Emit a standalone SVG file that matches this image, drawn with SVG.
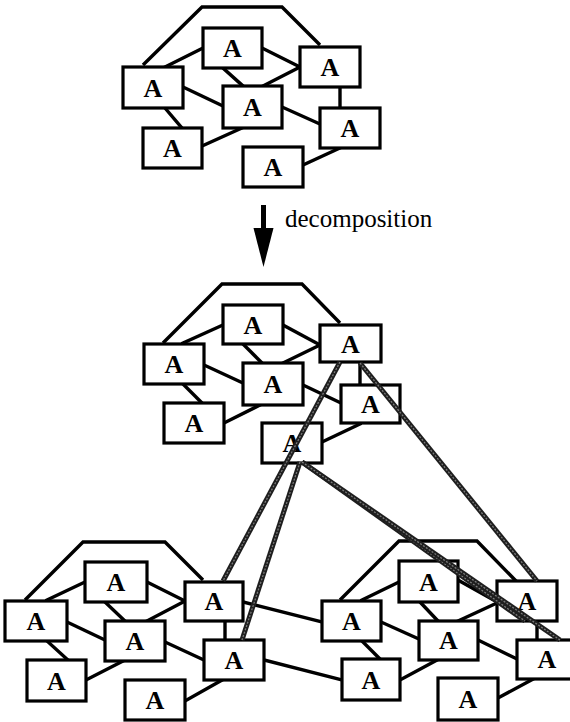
<svg xmlns="http://www.w3.org/2000/svg" width="570" height="722" viewBox="0 0 570 722">
  <style>
    .box { fill: #fff; stroke: #000; stroke-width: 3.2; }
    .lbl { font-family: "Liberation Serif", "Times New Roman", serif; font-weight: bold; font-size: 26px; text-anchor: middle; fill: #000; }
    .edge { stroke: #000; stroke-width: 3.4; fill: none; stroke-linecap: square; }
    .hull { stroke: #000; stroke-width: 3.4; fill: none; stroke-linejoin: miter; }
    .map-outer { stroke: #1e1e1e; stroke-width: 5; fill: none; }
    .map-inner { stroke: #7a7a7a; stroke-width: 1.3; fill: none; stroke-dasharray: 2 1.5; }
    .caption { font-family: "Liberation Serif", "Times New Roman", serif; font-size: 25px; fill: #000; }
  </style>
  <rect width="570" height="722" fill="#fff"/>

  <!-- connectors: hulls and edges inside each cluster, plus links between clusters -->
  <g id="connectors">
    <!-- top cluster -->
    <polyline class="hull" points="143,65 202,7 282,7 320,45"/>
    <line class="edge" x1="165" y1="67" x2="203" y2="48"/>
    <line class="edge" x1="262" y1="48" x2="300" y2="67"/>
    <line class="edge" x1="223" y1="68" x2="243" y2="86"/>
    <line class="edge" x1="263" y1="86" x2="300" y2="67"/>
    <line class="edge" x1="183" y1="87" x2="223" y2="106"/>
    <line class="edge" x1="165" y1="108" x2="182" y2="128"/>
    <line class="edge" x1="202" y1="146" x2="242" y2="128"/>
    <line class="edge" x1="282" y1="107" x2="320" y2="124"/>
    <line class="edge" x1="340" y1="87" x2="340" y2="108"/>
    <line class="edge" x1="303" y1="165" x2="340" y2="148"/>

    <!-- middle cluster -->
    <polyline class="hull" points="163,343 222,284 302,284 340,323"/>
    <line class="edge" x1="183" y1="343" x2="223" y2="325"/>
    <line class="edge" x1="283" y1="325" x2="320" y2="345"/>
    <line class="edge" x1="243" y1="344" x2="262" y2="363"/>
    <line class="edge" x1="283" y1="363" x2="320" y2="345"/>
    <line class="edge" x1="204" y1="365" x2="243" y2="383"/>
    <line class="edge" x1="183" y1="384" x2="202" y2="403"/>
    <line class="edge" x1="224" y1="423" x2="260" y2="405"/>
    <line class="edge" x1="303" y1="385" x2="341" y2="403"/>
    <line class="edge" x1="360" y1="362" x2="360" y2="385"/>
    <line class="edge" x1="322" y1="442" x2="360" y2="424"/>

    <!-- bottom-left cluster -->
    <polyline class="hull" points="25,600 83,542 165,542 203,580"/>
    <line class="edge" x1="47" y1="600" x2="85" y2="582"/>
    <line class="edge" x1="147" y1="582" x2="185" y2="601"/>
    <line class="edge" x1="106" y1="603" x2="125" y2="621"/>
    <line class="edge" x1="147" y1="621" x2="185" y2="601"/>
    <line class="edge" x1="67" y1="622" x2="105" y2="640"/>
    <line class="edge" x1="47" y1="641" x2="68" y2="660"/>
    <line class="edge" x1="86" y1="680" x2="123" y2="661"/>
    <line class="edge" x1="165" y1="642" x2="204" y2="660"/>
    <line class="edge" x1="225" y1="621" x2="225" y2="640"/>
    <line class="edge" x1="185" y1="701" x2="222" y2="680"/>

    <!-- bottom-right cluster -->
    <polyline class="hull" points="340,600 399,541 477,541 517,582"/>
    <line class="edge" x1="362" y1="600" x2="399" y2="582"/>
    <line class="edge" x1="458" y1="580" x2="497" y2="602"/>
    <line class="edge" x1="420" y1="602" x2="438" y2="621"/>
    <line class="edge" x1="458" y1="621" x2="497" y2="603"/>
    <line class="edge" x1="381" y1="622" x2="419" y2="639"/>
    <line class="edge" x1="362" y1="641" x2="380" y2="659"/>
    <line class="edge" x1="400" y1="680" x2="437" y2="660"/>
    <line class="edge" x1="478" y1="640" x2="517" y2="659"/>
    <line class="edge" x1="537" y1="621" x2="537" y2="640"/>
    <line class="edge" x1="498" y1="698" x2="535" y2="678"/>

    <!-- links between the two bottom clusters -->
    <line class="edge" x1="243" y1="602" x2="322" y2="622"/>
    <line class="edge" x1="264" y1="660" x2="342" y2="680"/>
  </g>

  <!-- top cluster nodes -->
  <g id="t1"><rect class="box" x="123" y="67" width="60" height="41"/><text class="lbl" x="153" y="97">A</text></g>
  <g id="t2"><rect class="box" x="203" y="28" width="59" height="40"/><text class="lbl" x="232.5" y="57">A</text></g>
  <g id="t3"><rect class="box" x="300" y="47" width="60" height="40"/><text class="lbl" x="330" y="76">A</text></g>
  <g id="t4"><rect class="box" x="223" y="86" width="59" height="42"/><text class="lbl" x="252.5" y="116">A</text></g>
  <g id="t5"><rect class="box" x="320" y="108" width="60" height="40"/><text class="lbl" x="350" y="137">A</text></g>
  <g id="t6"><rect class="box" x="143" y="128" width="59" height="40"/><text class="lbl" x="172.5" y="157">A</text></g>
  <g id="t7"><rect class="box" x="243" y="147" width="60" height="40"/><text class="lbl" x="273" y="176">A</text></g>

  <!-- decomposition arrow -->
  <g id="arrow">
    <rect x="261" y="205" width="5" height="25" fill="#000"/>
    <polygon points="253.5,228 273.5,228 263.5,267" fill="#000"/>
    <text class="caption" x="285" y="227">decomposition</text>
  </g>

  <!-- middle cluster nodes -->
  <g id="m1"><rect class="box" x="144" y="344" width="60" height="40"/><text class="lbl" x="174" y="373">A</text></g>
  <g id="m2"><rect class="box" x="223" y="305" width="60" height="39"/><text class="lbl" x="253" y="334">A</text></g>
  <g id="m3"><rect class="box" x="320" y="325" width="61" height="37"/><text class="lbl" x="350.5" y="353">A</text></g>
  <g id="m4"><rect class="box" x="243" y="363" width="60" height="42"/><text class="lbl" x="273" y="393">A</text></g>
  <g id="m5"><rect class="box" x="341" y="385" width="59" height="38"/><text class="lbl" x="370.5" y="413">A</text></g>
  <g id="m6"><rect class="box" x="164" y="403" width="60" height="40"/><text class="lbl" x="194" y="432">A</text></g>
  <g id="m7"><rect class="box" x="262" y="423" width="60" height="40"/><text class="lbl" x="292" y="452">A</text></g>

  <!-- bottom-left cluster nodes -->
  <g id="l1"><rect class="box" x="5" y="601" width="62" height="40"/><text class="lbl" x="36" y="630">A</text></g>
  <g id="l2"><rect class="box" x="85" y="562" width="62" height="40"/><text class="lbl" x="116" y="591">A</text></g>
  <g id="l3"><rect class="box" x="185" y="582" width="58" height="39"/><text class="lbl" x="214" y="610">A</text></g>
  <g id="l4"><rect class="box" x="105" y="621" width="60" height="40"/><text class="lbl" x="135" y="650">A</text></g>
  <g id="l5"><rect class="box" x="204" y="640" width="60" height="40"/><text class="lbl" x="234" y="669">A</text></g>
  <g id="l6"><rect class="box" x="27" y="660" width="59" height="41"/><text class="lbl" x="56.5" y="690">A</text></g>
  <g id="l7"><rect class="box" x="125" y="680" width="60" height="40"/><text class="lbl" x="155" y="709">A</text></g>

  <!-- bottom-right cluster nodes -->
  <g id="r1"><rect class="box" x="322" y="601" width="59" height="40"/><text class="lbl" x="351.5" y="630">A</text></g>
  <g id="r2"><rect class="box" x="399" y="561" width="59" height="41"/><text class="lbl" x="428.5" y="591">A</text></g>
  <g id="r3"><rect class="box" x="497" y="581" width="60" height="40"/><text class="lbl" x="527" y="610">A</text></g>
  <g id="r4"><rect class="box" x="419" y="621" width="59" height="39"/><text class="lbl" x="448.5" y="649">A</text></g>
  <g id="r5"><rect class="box" x="517" y="640" width="60" height="39"/><text class="lbl" x="547" y="668">A</text></g>
  <g id="r6"><rect class="box" x="342" y="659" width="58" height="41"/><text class="lbl" x="371" y="689">A</text></g>
  <g id="r7"><rect class="box" x="438" y="678" width="60" height="42"/><text class="lbl" x="468" y="708">A</text></g>

  <!-- mapping links from the middle cluster down to the expanded clusters -->
  <g id="mapping">
    <line class="map-outer" x1="340" y1="362" x2="223" y2="581"/>
    <line class="map-inner" x1="340" y1="362" x2="223" y2="581"/>
    <line class="map-outer" x1="300" y1="462" x2="242" y2="640"/>
    <line class="map-inner" x1="300" y1="462" x2="242" y2="640"/>
    <line class="map-outer" x1="360" y1="363" x2="537" y2="581"/>
    <line class="map-inner" x1="360" y1="363" x2="537" y2="581"/>
    <line class="map-outer" x1="302" y1="462" x2="525" y2="621"/>
    <line class="map-inner" x1="302" y1="462" x2="525" y2="621"/>
    <line class="map-outer" x1="302" y1="462" x2="560" y2="640"/>
    <line class="map-inner" x1="302" y1="462" x2="560" y2="640"/>
  </g>
</svg>
